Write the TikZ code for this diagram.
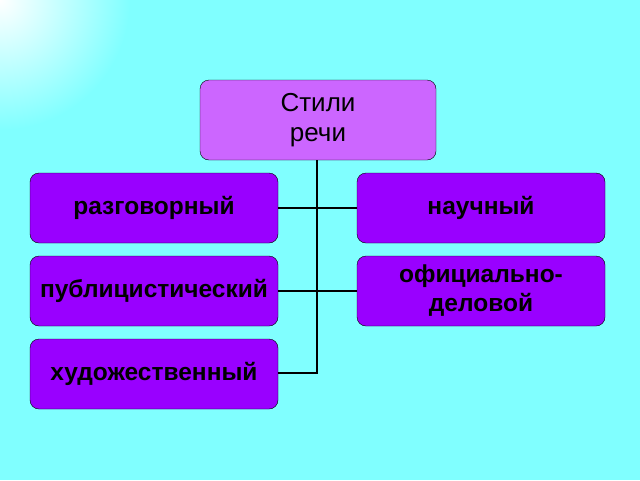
\documentclass[tikz,border=0pt]{standalone}
\usepackage{fontspec}
\setmainfont{Liberation Sans}
\definecolor{boxviolet}{HTML}{9900FF}
\definecolor{topviolet}{HTML}{CC66FF}
\definecolor{bgcyan}{HTML}{80FFFF}
\tikzset{
  stylebox/.style={draw=black, fill=boxviolet, rounded corners=9pt, minimum width=248pt, minimum height=70pt, inner sep=1pt, align=center, font=\bfseries\fontsize{24.5}{29}\selectfont},
  link/.style={line width=1.6pt}
}
\begin{document}
\begin{tikzpicture}[x=1pt,y=-1pt]
	\useasboundingbox (0,0) rectangle (640,480);
	\begin{scope}
	\clip (0,0) rectangle (640,480);
	\fill[bgcyan] (0,0) rectangle (640,480);
	\shade[inner color=white, outer color=bgcyan] (0,0) circle (130);
	\end{scope}
	\node[stylebox, fill=topviolet, minimum width=236pt, minimum height=80pt, font=\fontsize{26}{30}\selectfont] (top) at (318,120) {Стили\\речи};
	\node[stylebox] (razg) at (154,208) {разговорный};
	\node[stylebox] (nauch) at (481,208) {научный};
	\node[stylebox] (publ) at (154,291) {публицистический};
	\node[stylebox] (ofic) at (481,291) {официально-\\деловой};
	\node[stylebox] (hud) at (154,374) {художественный};
	\coordinate (trunk) at (317,373);
	\draw[link] (top.south -| trunk) -- (trunk) -- (hud.east |- trunk);
	\draw[link] (razg.east) -- (nauch.west);
	\draw[link] (publ.east) -- (ofic.west);
\end{tikzpicture}
\end{document}
